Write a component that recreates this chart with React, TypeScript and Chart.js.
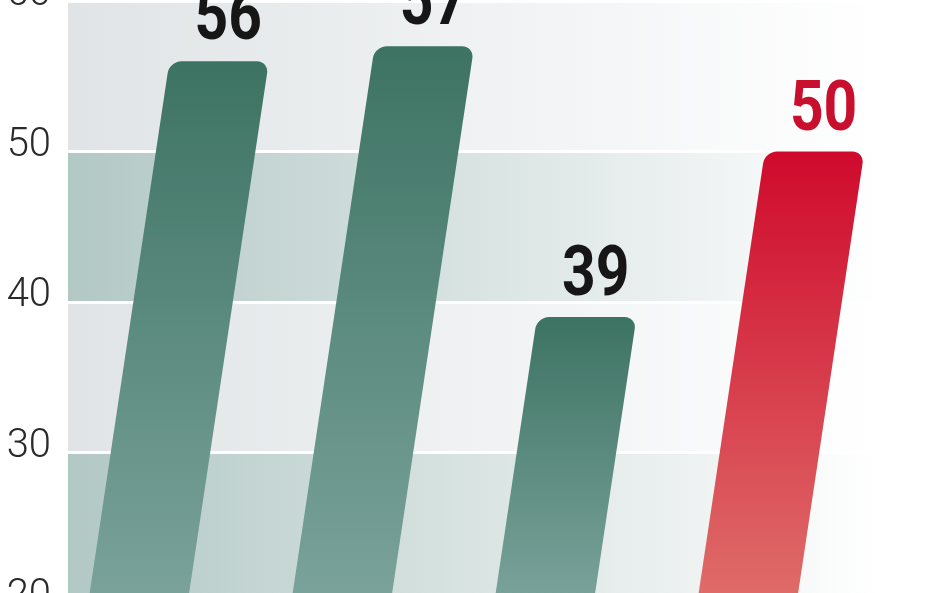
import { useEffect, useRef } from 'react'
import { Chart, BarController, BarElement, CategoryScale, LinearScale } from 'chart.js'

Chart.register(BarController, BarElement, CategoryScale, LinearScale)

// data
const categories = ['1', '2', '3', '4']
const values = [56, 57, 39, 50]
const highlighted = [false, false, false, true]
const yTicks = [20, 30, 40, 50, 60]

// look
const SKEW = 0.15
const SKEW_ORIGIN = 34
const LABEL_SQUEEZE = 0.84
const GREEN = ['#3d7363', '#7ba39b']
const RED = ['#cf0a2c', '#df6e6a']
const BAND_TEAL = '#b2c8c5'
const BAND_GREY = '#e0e4e6'

const bandsPlugin = {
  id: 'bands',
  beforeDraw(chart: any) {
    const { ctx, chartArea: a, scales } = chart
    const y = scales.y
    for (let i = 0; i < yTicks.length - 1; i++) {
      const top = y.getPixelForValue(yTicks[i + 1])
      const bot = y.getPixelForValue(yTicks[i])
      const g = ctx.createLinearGradient(a.left, 0, a.right, 0)
      g.addColorStop(0, i % 2 === 0 ? BAND_TEAL : BAND_GREY)
      g.addColorStop(1, '#ffffff')
      ctx.fillStyle = g
      ctx.fillRect(a.left, top, a.right - a.left, bot - top)
    }
  },
}

// bars lean to the right; value labels sit above them, upright and condensed
const skewPlugin = {
  id: 'skew',
  beforeDatasetsDraw(chart: any) {
    const y0 = chart.scales.y.getPixelForValue(SKEW_ORIGIN)
    chart.ctx.save()
    chart.ctx.transform(1, 0, -SKEW, 1, SKEW * y0, 0)
  },
  afterDatasetsDraw(chart: any) {
    const { ctx } = chart
    ctx.restore()
    const y0 = chart.scales.y.getPixelForValue(SKEW_ORIGIN)
    const meta = chart.getDatasetMeta(0)
    meta.data.forEach((el: any, i: number) => {
      const lx = el.x + SKEW * (y0 - (el.y - 60))
      ctx.save()
      ctx.translate(lx, el.y - 22)
      ctx.scale(LABEL_SQUEEZE, 1)
      ctx.font = 'bold 70px Roboto, "DejaVu Sans", sans-serif'
      ctx.textAlign = 'center'
      ctx.textBaseline = 'alphabetic'
      ctx.fillStyle = highlighted[i] ? '#c8102e' : '#161616'
      ctx.fillText(String(values[i]), 0, 0)
      ctx.restore()
    })
  },
}

function barFill(ctx: any) {
  const chart = ctx.chart
  const colors = highlighted[ctx.dataIndex] ? RED : GREEN
  const area = chart.chartArea
  if (!area || !chart.scales.y) return colors[0]
  const top = chart.scales.y.getPixelForValue(values[ctx.dataIndex])
  const g = chart.ctx.createLinearGradient(0, top, 0, area.bottom)
  g.addColorStop(0, colors[0])
  g.addColorStop(1, colors[1])
  return g
}

export default function App() {
  const ref = useRef<HTMLCanvasElement>(null)

  useEffect(() => {
    if (!ref.current) return

    const chart = new Chart(ref.current, {
      type: 'bar',
      data: {
        labels: categories,
        datasets: [{
          data: values,
          backgroundColor: barFill,
          borderRadius: 12,
          borderSkipped: 'start',
          barPercentage: 0.49,
          categoryPercentage: 1,
          clip: false,
        }],
      },
      options: {
        responsive: false,
        animation: false,
        layout: { padding: { top: 40, bottom: 57, left: 0, right: 68 } },
        plugins: { legend: { display: false }, tooltip: { enabled: false } },
        scales: {
          x: { display: false },
          y: {
            min: 20,
            max: 60,
            z: 1,
            afterBuildTicks: (scale: any) => { scale.ticks = yTicks.map((v) => ({ value: v })) },
            afterFit: (scale: any) => { scale.width = 68 },
            ticks: {
              padding: 17,
              labelOffset: -6,
              color: '#2a2a2a',
              font: { family: 'Roboto, "DejaVu Sans", sans-serif', size: 40, weight: 300 },
            },
            grid: { color: '#ffffff', lineWidth: 3, drawTicks: false },
            border: { display: false },
          },
        },
      },
      plugins: [bandsPlugin, skewPlugin],
    })
    return () => chart.destroy()
  }, [])

  return (
    <div style={{ position: 'fixed', left: 0, top: 0, width: 948, height: 593, overflow: 'hidden', background: '#fff' }}>
      <div style={{ position: 'absolute', left: 0, top: -40, width: 948, height: 700 }}>
        <canvas ref={ref} width={948} height={700} />
      </div>
    </div>
  )
}
